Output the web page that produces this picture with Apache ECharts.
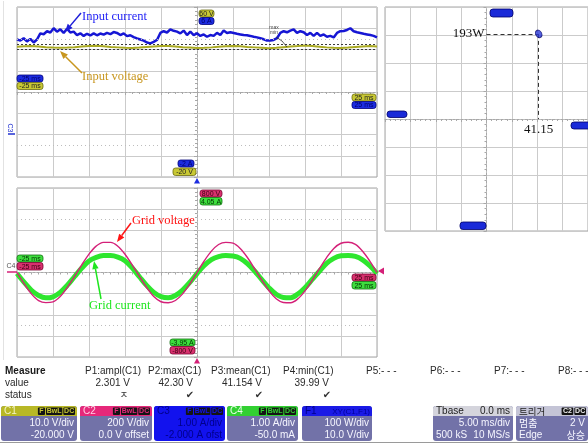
<!DOCTYPE html>
<html><head><meta charset="utf-8">
<script src="https://cdn.jsdelivr.net/npm/echarts@6/dist/echarts.min.js"></script>
<style>html,body{margin:0;padding:0;background:#fff;overflow:hidden}#c{width:588px;height:447px}</style>
</head><body><div id="c"></div>
<script>
// ---------------- DATA ----------------
// time window of the captures (ms)
const timeRange = [-25, 25];
// C3 input current (A), evenly spaced over the window
const inputCurrent = [4.48,4.42,4.53,4.38,4.50,4.33,4.47,4.76,4.72,4.86,4.80,5.00,4.84,4.95,4.78,4.98,4.80,4.84,4.68,4.76,4.64,4.74,4.66,4.76,4.67,4.75,4.70,4.78,4.72,4.82,4.78,4.68,4.76,4.63,4.67,4.58,4.52,4.47,4.42,4.33,4.29,4.36,4.45,4.78,4.86,4.80,4.95,4.88,4.84,4.76,4.89,4.68,4.84,4.68,4.76,4.64,4.71,4.60,4.68,4.64,4.78,4.68,4.89,4.78,4.81,4.78,4.74,4.71,4.68,4.67,4.64,4.60,4.57,4.53,4.48,4.42,4.42,4.45,4.53,4.78,4.86,4.81,4.89,4.95,4.78,4.86,4.81,4.68,4.78,4.64,4.78,4.64,4.71,4.60,4.64,4.57,4.78,4.86,4.87,4.92,5.00,4.86,4.81,4.78,4.74,4.71,4.68,4.64,4.57];
// C1 input voltage (V)
const inputVoltage = [41.3,41.5,41.6,41.4,41.1,40.9,40.8,40.9,41.1,41.4,41.6,41.8,41.5,41.2,41.0,40.8,40.7,40.9,41.2,41.4,41.6,41.7,41.4,41.1,40.9,40.7,40.8,41.0,41.3,41.5,41.7,41.5,41.2,41.0,40.8,40.6,40.8,41.1,41.4,41.6,41.9,41.6,41.3,41.0,40.8,40.7,40.9,41.2,41.4,41.6,41.4];
// C2 grid voltage (V), 1 ms steps
const gridVoltage = [0,-108,-202,-266,-285,-278,-228,-141,-36,73,174,250,285,285,249,173,73,-37,-142,-227,-277,-286,-265,-202,-109,0,109,202,265,285,278,227,142,37,-73,-173,-249,-284,-286,-250,-174,-74,36,141,228,277,286,266,201,108,0];
// C4 grid current (A), 1 ms steps
const gridCurrent = [0.0,-0.42,-0.79,-1.04,-1.15,-1.10,-0.89,-0.55,-0.14,0.26,0.60,0.77,0.85,0.85,0.78,0.61,0.27,-0.15,-0.56,-0.89,-1.09,-1.15,-1.04,-0.78,-0.42,0.0,0.38,0.66,0.80,0.85,0.83,0.72,0.47,0.12,-0.29,-0.68,-0.98,-1.13,-1.14,-0.97,-0.67,-0.28,0.11,0.48,0.72,0.84,0.86,0.81,0.65,0.37,0.0];
// XY operating point: input voltage (V), input power (W)
const xyVoltage = 41.15;
const xyPower = 193;
// axis extents (shown on the scope's reference badges)
const topVoltageRange = [-20, 60];
const topCurrentRange = [-2, 6];
const bottomVoltageRange = [-800, 800];
const bottomCurrentRange = [-3.95, 4.05];
const xyVoltageRange = [-80, 80];
const xyPowerRange = [-254, 254];
// reference levels
const vMax = 42.30, vMin = 39.99;
const topRefLevels = [45, -5];
const bottomRefLevels = [500, -500];
// measurement table
const measureHeaders = ['P1:ampl(C1)','P2:max(C1)','P3:mean(C1)','P4:min(C1)','P5:- - -','P6:- - -','P7:- - -','P8:- - -'];
const measureValues = ['2.301 V','42.30 V','41.154 V','39.99 V'];
const measureStatus = ['ㅈ','✔','✔','✔'];
// badge labels
const timeLabels = ['-25 ms','25 ms'];

// ---------------- LAYOUT ----------------
const P_TOP = {left:17, top:7, width:360, height:170};
const P_BOT = {left:17, top:188, width:360, height:169};
const P_XY  = {left:385, top:7, width:206, height:224};

const times = n => Array.from({length:n},(_,i)=>timeRange[0]+i*(timeRange[1]-timeRange[0])/(n-1));
const pair = arr => { const t = times(arr.length); return arr.map((v,i)=>[t[i], v]); };

const GRID_C = '#cbcbcb', AX_C = '#a8a8a8';
function gratAxis(gi, min, max){
  return {type:'value', gridIndex:gi, min, max, interval:1,
    axisLabel:{show:false},
    splitLine:{show:true, lineStyle:{color:GRID_C, width:1}},
    axisLine:{show:true, onZero:true, lineStyle:{color:AX_C, width:1, type:[2,2]}},
    axisTick:{show:true, length:3, lineStyle:{color:AX_C}},
    minorTick:{show:true, splitNumber:5, length:2, lineStyle:{color:AX_C}},
    minorSplitLine:{show:false}};
}
function dataAxis(gi, r){ return {type:'value', gridIndex:gi, min:r[0], max:r[1], show:false}; }

const grids = [
  Object.assign({show:true, borderColor:'#a4a4a4', borderWidth:1}, P_TOP),
  Object.assign({show:true, borderColor:'#a4a4a4', borderWidth:1}, P_BOT),
  Object.assign({show:true, borderColor:'#a4a4a4', borderWidth:1}, P_XY),
  Object.assign({}, P_TOP), Object.assign({}, P_BOT), Object.assign({}, P_XY)
];
const xAxes = [gratAxis(0,-5,5), gratAxis(1,-5,5), gratAxis(2,-4,4),
  dataAxis(3,timeRange), dataAxis(4,timeRange), dataAxis(5,xyVoltageRange)];
const yAxes = [gratAxis(0,-4,4), gratAxis(1,-4,4), gratAxis(2,-4,4),
  dataAxis(3,topVoltageRange), dataAxis(3,topCurrentRange),
  dataAxis(4,bottomVoltageRange), dataAxis(4,bottomCurrentRange),
  dataAxis(5,xyPowerRange)];

const serif = '"Liberation Serif", "DejaVu Serif", serif';
const sans = '"Liberation Sans", Arial, sans-serif';
const kr = '"Noto Sans CJK KR", sans-serif';

const series = [
  {type:'line', xAxisIndex:3, yAxisIndex:3, data:pair(inputVoltage), symbol:'none', z:3,
   lineStyle:{color:'#aaaa22', width:2},
   markLine:{silent:true, symbol:'none', label:{show:false}, animation:false,
     data:[{yAxis:vMax, lineStyle:{color:'#3a3a3a', type:[2,2], width:1}},
           {yAxis:vMin, lineStyle:{color:'#3a3a3a', type:[2,2], width:1}},
           ...topRefLevels.map(v=>({yAxis:v, lineStyle:{color:'#bdbdbd', type:[1,3], width:1.2}}))]}},
  {type:'line', xAxisIndex:3, yAxisIndex:4, data:pair(inputCurrent), symbol:'none', z:4,
   lineStyle:{color:'#1616d4', width:2.5}},
  {type:'line', xAxisIndex:4, yAxisIndex:6, data:pair(gridCurrent), symbol:'none', smooth:0.35, z:3,
   lineStyle:{color:'#2ee62e', width:5}},
  {type:'line', xAxisIndex:4, yAxisIndex:5, data:pair(gridVoltage), symbol:'none', smooth:0.35, z:4,
   lineStyle:{color:'#d42078', width:1.4},
   markLine:{silent:true, symbol:'none', label:{show:false}, animation:false,
     data:bottomRefLevels.map(v=>({yAxis:v, lineStyle:{color:'#bdbdbd', type:[1,3], width:1.2}}))}},
  {type:'scatter', xAxisIndex:5, yAxisIndex:7, data:[[xyVoltage, xyPower]], symbol:'circle', symbolSize:[6,8], symbolRotate:30, z:5,
   itemStyle:{color:'#2a3ad8', borderColor:'#101070', borderWidth:1},
   markLine:{silent:true, symbol:'none', animation:false,
     lineStyle:{color:'#333', type:[4,3], width:1},
     data:[
       [{coord:[0, xyPower], label:{show:true, position:'start', formatter:xyPower+'W', color:'#111', fontFamily:serif, fontSize:13, distance:2}}, {coord:[xyVoltage, xyPower]}],
       [{coord:[xyVoltage, xyPower], label:{show:true, position:'end', formatter:String(xyVoltage), color:'#111', fontFamily:serif, fontSize:13, distance:4}}, {coord:[xyVoltage, 0]}]
     ]}}
];

// ---------------- GRAPHIC ANNOTATIONS ----------------
const g = [];
function txt(x,y,text,fill,font,align,valign,extra){ g.push(Object.assign({type:'text', x, y, z:100, style:{text, fill, font, textAlign:align||'left', textVerticalAlign:valign||'middle'}}, extra||{})); }
function rect(x,y,w,h,fill,stroke,r){ g.push({type:'rect', z:99, shape:{x,y,width:w,height:h,r:r||0}, style:{fill, stroke:stroke||null, lineWidth:stroke?0.8:0}}); }
function badge(x,y,w,h,fill,stroke,text,tc){ rect(x,y,w,h,fill,stroke,2.5); txt(x+w/2,y+h/2+0.5,text,tc,'7px '+sans,'center','middle'); }
function tri(pts,fill){ g.push({type:'polygon', z:100, shape:{points:pts}, style:{fill}}); }
function arrow(x1,y1,x2,y2,color){
  const a=Math.atan2(y2-y1,x2-x1), L=8, W=3.2, bx=x2-L*Math.cos(a), by=y2-L*Math.sin(a);
  g.push({type:'line', z:100, shape:{x1,y1,x2:bx,y2:by}, style:{stroke:color, lineWidth:1.5}});
  tri([[x2,y2],[bx+W*Math.sin(a),by-W*Math.cos(a)],[bx-W*Math.sin(a),by+W*Math.cos(a)]], color);
}
const YEL=['#c8c834','#6a6a10','#222'], BLU=['#1c2ce0','#00007a','#00006a'], MAG=['#d8306e','#7a0030','#3a0010'], GRN=['#3ede3e','#107010','#003000'];

// frame line at far left
g.push({type:'line', z:1, shape:{x1:3.5,y1:1,x2:3.5,y2:360}, style:{stroke:'#e2e2e2', lineWidth:1}});

// top panel badges
badge(199,10,15,7,...YEL.slice(0,2),'60 V',YEL[2]);
badge(199,17.5,15,7,...BLU.slice(0,2),'6 A',BLU[2]);
badge(17,75,26,7,...BLU.slice(0,2),timeLabels[0],BLU[2]);
badge(17,82.5,26,7,...YEL.slice(0,2),timeLabels[0],YEL[2]);
badge(352,94,24,7,...YEL.slice(0,2),timeLabels[1],YEL[2]);
badge(352,101.5,24,7,...BLU.slice(0,2),timeLabels[1],BLU[2]);
badge(178,160,16,7,...BLU.slice(0,2),'-2 A',BLU[2]);
badge(173,168,23,7.5,...YEL.slice(0,2),'-20 V',YEL[2]);
tri([[197,178],[194,183.5],[200,183.5]],'#1c2ce0');
txt(10,128,'C3','#2030d0','7px '+sans,'center','middle',{rotation:-Math.PI/2});
g.push({type:'line', z:100, shape:{x1:8,y1:134,x2:15,y2:134}, style:{stroke:'#2030d0', lineWidth:1.5}});
txt(274,28,'max','#444','5px '+sans,'center','middle');
txt(274,33,'min','#444','5px '+sans,'center','middle');
g.push({type:'polyline', z:100, shape:{points:[[276,37],[282,41],[287,47]]}, style:{stroke:'#333', lineWidth:0.8, fill:null}});

// bottom panel badges
badge(200,190,22,7,...MAG.slice(0,2),'800 V',MAG[2]);
badge(200,197.5,22,7.5,...GRN.slice(0,2),'4.05 A',GRN[2]);
badge(17,255,26,7,...GRN.slice(0,2),timeLabels[0],GRN[2]);
badge(17,262.5,26,7.5,...MAG.slice(0,2),timeLabels[0],MAG[2]);
badge(352,274,24,7,...MAG.slice(0,2),timeLabels[1],MAG[2]);
badge(352,281.5,24,7.5,...GRN.slice(0,2),timeLabels[1],GRN[2]);
badge(170,339,25,7,...GRN.slice(0,2),'-3.95 A',GRN[2]);
badge(170,346.5,25,7.5,...MAG.slice(0,2),'-800 V',MAG[2]);
tri([[378,271],[384,267.5],[384,274.5]],'#d42078');
tri([[197,358],[194,363.5],[200,363.5]],'#d42078');
txt(11,266,'C4','#555','7px '+sans,'center','middle');
g.push({type:'line', z:100, shape:{x1:7,y1:272,x2:17,y2:272}, style:{stroke:'#d42078', lineWidth:1.5}});

// XY panel badges
rect(490,9,23,8,'#1a2ad8','#00006a',3);
rect(387,111,20,6.5,'#1a2ad8','#00006a',3);
rect(571,122,20,7,'#1a2ad8','#00006a',3);
rect(460,222,26,7.5,'#1a2ad8','#00006a',3);

// trace annotations
txt(82,17,'Input current','#2323f5','12.5px '+serif);
arrow(81,13,65,32,'#1e1ed8');
txt(82,77,'Input voltage','#c8961e','12.5px '+serif);
arrow(82,73,60,51,'#c8961e');
txt(132,221,'Grid voltage','#ff1414','12.5px '+serif);
arrow(131,223,117,242,'#ff1414');
txt(89,306,'Grid current','#1ee61e','12.5px '+serif);
arrow(101,299,94,261,'#1ee61e');

// measurement table
const mx = [85,148,211,283,366,430,494,558];
const vx = [130,193,262,329];
const sx = [124,190,259,327];
txt(5,371,'Measure','#1a1a1a','bold 10px '+sans);
txt(5,383,'value','#2a2a2a','10px '+sans);
txt(5,395,'status','#2a2a2a','10px '+sans);
measureHeaders.forEach((h,i)=>txt(mx[i],371,h,'#2a2a2a','10px '+sans));
measureValues.forEach((v,i)=>txt(vx[i],383,v,'#2a2a2a','10px '+sans,'right'));
measureStatus.forEach((s,i)=>txt(sx[i],395,s,'#333',(i===0?'9px '+kr:'10px "DejaVu Sans"'),'center'));

// channel boxes
const BODY='#7272a8', WHITE='#f6f6ff';
function chBox(x,w,hdr,label,labelColor,tags,tagText,bodyColor,l1,l2,bodyText,left1,left2){
  rect(x,406,w,35,bodyColor,null,3);
  g.push({type:'rect', z:99, shape:{x,y:406,width:w,height:10,r:[3,3,0,0]}, style:{fill:hdr}});
  txt(x+3,411.5,label,labelColor,(label.match(/[가-힣]/)?'9.5px '+kr:'10px '+sans));
  let tx = x+w-2;
  for(let i=tags.length-1;i>=0;i--){
    const tw = tags[i].length*4.6+2.5;
    tx -= tw;
    rect(tx,407.5,tw,7.5,'#141414',null,1);
    txt(tx+tw/2,411.5,tags[i],tagText,'bold 7px '+sans,'center');
    tx -= 1;
  }
  if(l1) txt(x+w-3,423,l1,bodyText,'10px '+sans,'right');
  if(l2) txt(x+w-3,435,l2,bodyText,(/[가-힣]/.test(l2)?'10px '+kr:'10px '+sans),'right');
  if(left1) txt(x+3,423,left1,bodyText,(/[가-힣]/.test(left1)?'10px '+kr:'10px '+sans));
  if(left2) txt(x+3,435,left2,bodyText,'10px '+sans);
}
chBox(1,76,'#b8b826','C1','#f4f4c8',['F','BwL','DC'],'#c8c834',BODY,'10.0 V/div','-20.000 V',WHITE);
chBox(80,72,'#e6287a','C2','#ffd0e4',['F','BwL','DC'],'#e6287a',BODY,'200 V/div','0.0 V offset',WHITE);
chBox(154,71,'#1212ee','C3','#00008a',['F','BwL','DC'],'#1212ee','#1212ee','1.00 A/div','-2.000 A ofst','#00008a');
chBox(227,71,'#32d032','C4','#e8ffe8',['F','BwL','DC'],'#32d032',BODY,'1.00 A/div','-50.0 mA',WHITE);
chBox(302,70,'#1a1ae6','F1','#00008a',[],'#fff',BODY,'100 W/div','10.0 V/div',WHITE);
txt(370,411.5,'XY(C1,F1)','#00009a','8px '+sans,'right');
chBox(433,80,'#d4d4dc','Tbase','#222',[],'#fff',BODY,'5.00 ms/div','10 MS/s',WHITE,null,'500 kS');
txt(510,411.5,'0.0 ms','#222','10px '+sans,'right');
chBox(516,72,'#c4c4d6','트리거','#222',['C2','DC'],'#f0f0f0',BODY,'2 V','상승',WHITE,'멈춤','Edge');
g.push({type:'line', z:98, shape:{x1:0,y1:442.5,x2:588,y2:442.5}, style:{stroke:'#9a9a9a', lineWidth:1}});

const chart = echarts.init(document.getElementById('c'), null, {renderer:'canvas'});
chart.setOption({
  animation:false, backgroundColor:'#ffffff',
  grid:grids, xAxis:xAxes, yAxis:yAxes, series, graphic:{elements:g}
});
</script></body></html>
